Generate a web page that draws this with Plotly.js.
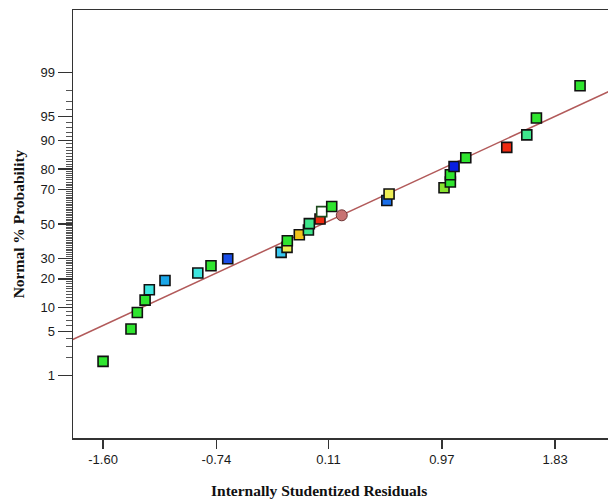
<!DOCTYPE html>
<html><head><meta charset="utf-8">
<script src="https://cdn.plot.ly/plotly-3.0.1.min.js"></script>
<style>html,body{margin:0;padding:0;background:#fff;}#chart{width:608px;height:499px;}</style>
</head><body><div id="chart"></div>
<script>
// Residuals (x) and normal % probability (y)
const residuals = [-1.600,-1.388,-1.340,-1.281,-1.249,-1.130,-0.881,-0.781,-0.654,-0.249,-0.204,-0.202,-0.111,-0.042,-0.035,0.046,0.059,0.135,0.553,0.570,0.987,1.035,1.035,1.063,1.152,1.463,1.615,1.688,2.019];
const normalProb = [1.76,5.37,8.76,12.18,15.7,19.35,22.6,26.1,29.7,33.2,36.0,39.9,43.5,46.3,50.2,53.1,57.5,60.6,64.1,67.7,71.1,74.0,77.5,81.1,84.5,88.0,91.4,94.8,98.3];
const pointColors = ['#2fe52f','#2fe52f','#2fe52f','#2fe52f','#3ee6e0','#1aa6e8','#3ee6e0','#2fe52f','#1a4ee8','#38c8f0','#eeee55','#2fe52f','#f2c21a','#3ee68c','#3ee68c','#f02a10','#ffffff','#2fe52f','#1a6ee8','#eeee55','#88e22f','#2fe52f','#2fe52f','#0a1ee0','#2fe52f','#f02a10','#3ee68c','#2fe52f','#2fe52f'];
const pointBorders = ['#111','#111','#111','#111','#111','#111','#111','#111','#111','#111','#111','#111','#111','#111','#111','#111','#1d4a1d','#111','#111','#111','#111','#111','#111','#111','#111','#111','#111','#111','#111'];
// Separate circular point
const circleX = [0.211];
const circleP = [55.3];
// Fitted line (end points)
const fitX = [-1.83, 2.24];
const fitP = [3.84, 97.9];
// Ticks
const xTickVals = [-1.60,-0.74,0.11,0.97,1.83];
const xTickLabels = ['-1.60','-0.74','0.11','0.97','1.83'];
const yTickPct = [1,5,10,20,30,50,70,80,90,95,99];
const yTickLabels = ['1','5','10','20','30','50','70','80','90','95','99'];

// probit scale helper (inverse normal CDF, Acklam)
function probit(pct){
  const p = pct/100;
  const a=[-3.969683028665376e+01,2.209460984245205e+02,-2.759285104469687e+02,1.383577518672690e+02,-3.066479806614716e+01,2.506628277459239e+00];
  const b=[-5.447609879822406e+01,1.615858368580409e+02,-1.556989798598866e+02,6.680131188771972e+01,-1.328068155288572e+01];
  const c=[-7.784894002430293e-03,-3.223964580411365e-01,-2.400758277161838e+00,-2.549732539343734e+00,4.374664141464968e+00,2.938163982698783e+00];
  const d=[7.784695709041462e-03,3.224671290700398e-01,2.445134137142996e+00,3.754408661907416e+00];
  const pl=0.02425, ph=1-pl;
  let q,r;
  if(p<pl){q=Math.sqrt(-2*Math.log(p));return (((((c[0]*q+c[1])*q+c[2])*q+c[3])*q+c[4])*q+c[5])/((((d[0]*q+d[1])*q+d[2])*q+d[3])*q+1);}
  if(p<=ph){q=p-0.5;r=q*q;return (((((a[0]*r+a[1])*r+a[2])*r+a[3])*r+a[4])*r+a[5])*q/(((((b[0]*r+b[1])*r+b[2])*r+b[3])*r+b[4])*r+1);}
  q=Math.sqrt(-2*Math.log(1-p));return -(((((c[0]*q+c[1])*q+c[2])*q+c[3])*q+c[4])*q+c[5])/((((d[0]*q+d[1])*q+d[2])*q+d[3])*q+1);
}

const minorPct = [];
for(let i=2;i<=98;i++){ if(yTickPct.indexOf(i)<0) minorPct.push(i); }

const axisColor = '#333';
const traces = [
  {x: fitX, y: fitP.map(probit), mode:'lines', line:{color:'#b25a5a', width:1.5}, hoverinfo:'skip', showlegend:false},
  {x: residuals, y: normalProb.map(probit), mode:'markers', showlegend:false,
   marker:{symbol:'square', size:10, color: pointColors, line:{color: pointBorders, width:1.6}}},
  {x: circleX, y: circleP.map(probit), mode:'markers', showlegend:false,
   marker:{symbol:'circle', size:11, color:'#c87272', line:{color:'#6e3434', width:1}}}
];

const layout = {
  width:608, height:499,
  margin:{l:73, r:0, t:10, b:61},
  paper_bgcolor:'#fff', plot_bgcolor:'#fff',
  showlegend:false,
  xaxis:{
    range:[-1.828, 2.231], showgrid:false, zeroline:false,
    showline:true, linecolor:axisColor, linewidth:1.5, mirror:true,
    tickmode:'array', tickvals:xTickVals, ticktext:xTickLabels,
    ticks:'outside', ticklen:9, tickwidth:1.5, tickcolor:axisColor,
    tickfont:{family:'Liberation Sans, Arial, sans-serif', size:13, color:'#1a1a1a'}
  },
  yaxis:{
    range:[-3.28, 3.28], showgrid:false, zeroline:false,
    showline:true, linecolor:axisColor, linewidth:1.5, mirror:false,
    tickmode:'array', tickvals:yTickPct.map(probit), ticktext:yTickLabels,
    ticks:'outside', ticklen:14, tickwidth:1.2, tickcolor:axisColor,
    tickfont:{family:'Liberation Sans, Arial, sans-serif', size:13, color:'#1a1a1a'},
    minor:{tickmode:'array', tickvals:minorPct.map(probit), ticks:'outside', ticklen:6, tickwidth:1, tickcolor:'#555', showgrid:false},
    title:{text:'Normal % Probability', standoff:12,
      font:{family:'Liberation Serif, Times New Roman, serif', size:15.5, color:'#111', weight:'bold'}}
  },
  annotations:[{
    text:'Internally Studentized Residuals', xref:'paper', yref:'paper',
    x:0.46, y:-0.1215, xanchor:'center', yanchor:'middle', showarrow:false,
    font:{family:'Liberation Serif, Times New Roman, serif', size:15.5, color:'#111', weight:'bold'}
  }]
};

Plotly.newPlot('chart', traces, layout, {displayModeBar:false, staticPlot:true});
</script>
</body></html>
